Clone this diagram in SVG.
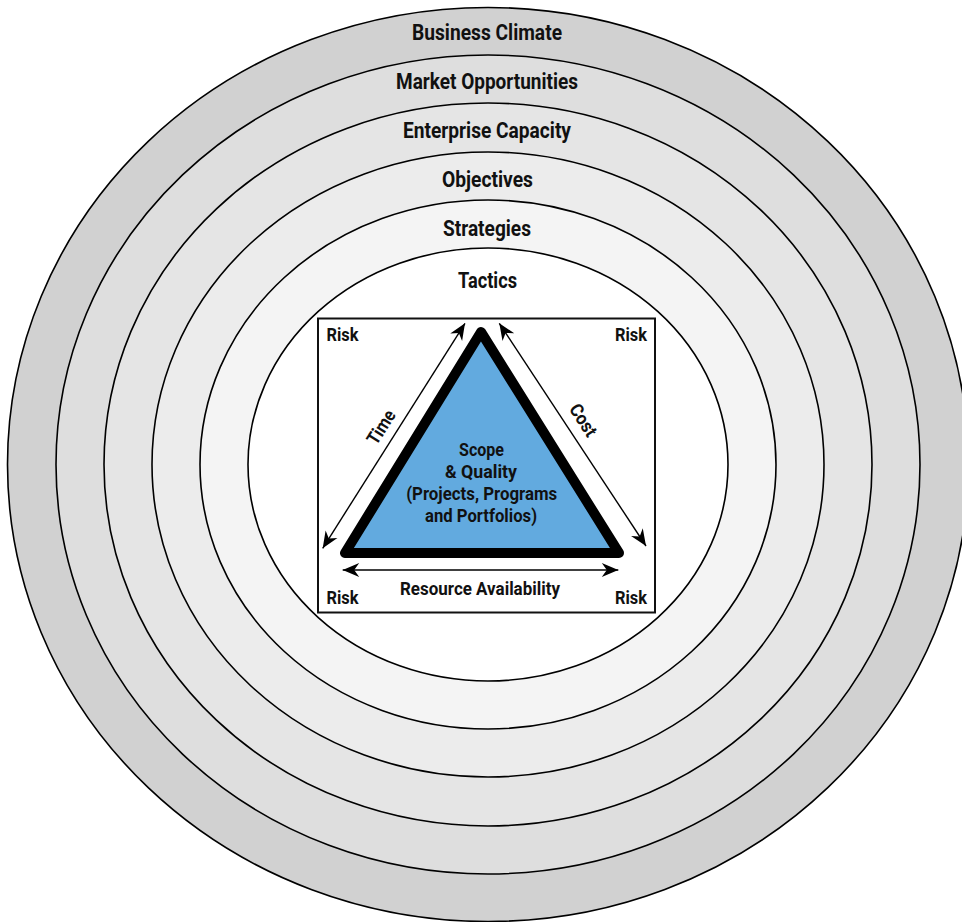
<svg xmlns="http://www.w3.org/2000/svg" width="962" height="922" viewBox="0 0 962 922">
<defs>
<style>
.ring{stroke:#000;stroke-width:1.6}
.lbl{font-family:Roboto,"Liberation Sans",sans-serif;font-weight:bold;fill:#111;text-anchor:middle}
.big{font-size:22px}
.sm{font-size:19px}
.in{font-size:18.5px}
.conn{stroke:#000;stroke-width:1.4;fill:none;marker-start:url(#ah);marker-end:url(#ah)}
</style>
<marker id="ah" viewBox="-18 -8 19 16" refX="0" refY="0" markerWidth="19" markerHeight="16" markerUnits="userSpaceOnUse" orient="auto-start-reverse">
<path d="M0,0 L-16.5,-7 L-11.5,0 L-16.5,7 Z" fill="#000"/>
</marker>
</defs>
<rect width="962" height="922" fill="#fff"/>
<g id="ring-business-climate">
<ellipse class="ring" cx="488" cy="464.5" rx="480.5" ry="457" fill="#d1d1d1"/>
<text class="lbl big" x="487" y="40" textLength="150" lengthAdjust="spacingAndGlyphs">Business Climate</text>
</g>
<g id="ring-market-opportunities">
<ellipse class="ring" cx="488" cy="464.5" rx="432" ry="409.5" fill="#dedede"/>
<text class="lbl big" x="487" y="89" textLength="182" lengthAdjust="spacingAndGlyphs">Market Opportunities</text>
</g>
<g id="ring-enterprise-capacity">
<ellipse class="ring" cx="488" cy="464.5" rx="384" ry="361.5" fill="#e5e5e5"/>
<text class="lbl big" x="487" y="138" textLength="168" lengthAdjust="spacingAndGlyphs">Enterprise Capacity</text>
</g>
<g id="ring-objectives">
<ellipse class="ring" cx="488" cy="464.5" rx="336" ry="312.5" fill="#ececec"/>
<text class="lbl big" x="487.5" y="187" textLength="91" lengthAdjust="spacingAndGlyphs">Objectives</text>
</g>
<g id="ring-strategies">
<ellipse class="ring" cx="488" cy="464.5" rx="288" ry="264.5" fill="#f4f4f4"/>
<text class="lbl big" x="487" y="236" textLength="88" lengthAdjust="spacingAndGlyphs">Strategies</text>
</g>
<g id="ring-tactics">
<ellipse class="ring" cx="488" cy="464.5" rx="240" ry="216.5" fill="#ffffff"/>
<text class="lbl big" x="487.5" y="288" textLength="59" lengthAdjust="spacingAndGlyphs">Tactics</text>
</g>
<g id="risk-box">
<rect x="318" y="318.5" width="337" height="294" fill="#fff" stroke="#111" stroke-width="2"/>
<text class="lbl sm" x="342.5" y="340.5" textLength="32" lengthAdjust="spacingAndGlyphs">Risk</text>
<text class="lbl sm" x="631" y="340.5" textLength="32" lengthAdjust="spacingAndGlyphs">Risk</text>
<text class="lbl sm" x="342.5" y="603.5" textLength="32" lengthAdjust="spacingAndGlyphs">Risk</text>
<text class="lbl sm" x="631" y="603.5" textLength="32" lengthAdjust="spacingAndGlyphs">Risk</text>
</g>
<g id="triangle">
<path d="M481,332 L345,553 L619,553 Z" fill="#62aadf" stroke="#000" stroke-width="10" stroke-linejoin="round"/>
<text class="lbl in" x="481.5" y="456" textLength="45" lengthAdjust="spacingAndGlyphs">Scope</text>
<text class="lbl in" x="481" y="478.3" textLength="72" lengthAdjust="spacingAndGlyphs">&amp; Quality</text>
<text class="lbl in" x="481.7" y="500.3" textLength="151" lengthAdjust="spacingAndGlyphs">(Projects, Programs</text>
<text class="lbl in" x="481" y="522.3" textLength="112" lengthAdjust="spacingAndGlyphs">and Portfolios)</text>
</g>
<g id="connectors">
<line class="conn" x1="322.7" y1="548.3" x2="465" y2="323.3"/>
<line class="conn" x1="499.3" y1="323.3" x2="646" y2="546"/>
<line class="conn" x1="342.7" y1="570" x2="618.3" y2="570"/>
</g>
<g id="connector-labels">
<text class="lbl in" transform="translate(386.5,430.5) rotate(-57.6)" textLength="37" lengthAdjust="spacingAndGlyphs">Time</text>
<text class="lbl in" transform="translate(578,423.6) rotate(56.7)" textLength="35" lengthAdjust="spacingAndGlyphs">Cost</text>
<text class="lbl in" x="480" y="595" textLength="160" lengthAdjust="spacingAndGlyphs">Resource Availability</text>
</g>
</svg>
